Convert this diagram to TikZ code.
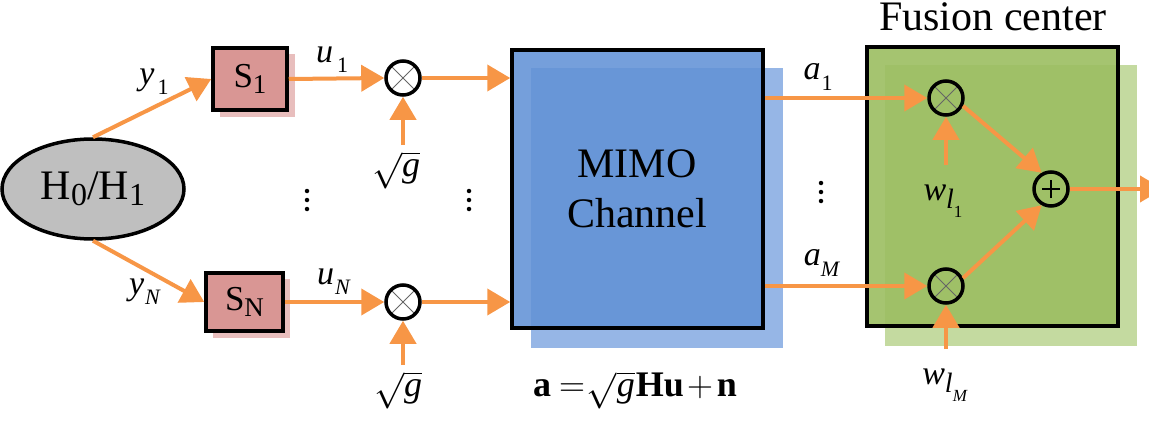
\RequirePackage{fix-cm}
\documentclass[tikz,border=0pt]{standalone}
\usepackage{amsmath}
\usepackage{fontspec}
\setmainfont{Liberation Serif}
\usetikzlibrary{arrows.meta,shapes.geometric}
\definecolor{arrowor}{RGB}{247,150,70}
\definecolor{sbox}{RGB}{217,150,148}
\definecolor{sshadow}{RGB}{232,190,189}
\definecolor{hgray}{RGB}{191,191,191}
\definecolor{mimoblue}{RGB}{98,146,214}
\definecolor{mimoshadow}{RGB}{150,182,230}
\definecolor{fcgreen}{RGB}{155,190,97}
\definecolor{fcshadow}{RGB}{196,218,160}
\newcommand{\sublab}[3]{\textit{#1}\kern#3\raisebox{-0.3em}{\fontsize{22}{22}\selectfont #2}}
\newcommand{\wlab}[1]{\textit{w}\raisebox{-0.25em}{\fontsize{28}{28}\selectfont\textit{l}\raisebox{-0.3em}{\fontsize{17}{17}\selectfont #1}}}
\newcommand{\sqg}[1]{$\sqrt{\mbox{\fontsize{#1}{#1}\selectfont\itshape g}}$}
\begin{document}
\begin{tikzpicture}[x=1pt,y=-1pt,
  flow/.style={draw=arrowor, line width=4pt, -{Triangle[length=23pt,width=26pt]}},
  blk/.style={draw=black, line width=3.5pt},
  sensor/.style={blk, fill=sbox, rectangle, inner sep=0pt, font=\fontsize{35}{35}\selectfont},
  mult/.style={blk, circle, minimum size=34pt, inner sep=0pt,
    path picture={\draw[gray!80!black, line width=1pt]
      (path picture bounding box.north west) -- (path picture bounding box.south east)
      (path picture bounding box.north east) -- (path picture bounding box.south west);}},
  adder/.style={blk, circle, minimum size=34pt, inner sep=0pt,
    path picture={\draw[black, line width=2pt]
      ([xshift=-9pt]path picture bounding box.center) -- ([xshift=9pt]path picture bounding box.center)
      ([yshift=-9pt]path picture bounding box.center) -- ([yshift=9pt]path picture bounding box.center);}},
  lab/.style={inner sep=0pt, font=\fontsize{34}{34}\selectfont},
  bigtext/.style={inner sep=0pt, font=\fontsize{42}{50}\selectfont, align=center},
  vdot/.style={circle, fill=black, inner sep=0pt, minimum size=4.5pt}
]
\clip (0,0) rectangle (1149,436);

% hypothesis ellipse
\node[blk, ellipse, fill=hgray, minimum width=182pt, minimum height=100pt, inner sep=0pt,
  font=\fontsize{42}{42}\selectfont] (H) at (93,189)
  {H\raisebox{-0.15em}{\fontsize{32}{32}\selectfont 0}/H\raisebox{-0.15em}{\fontsize{32}{32}\selectfont 1}};

% sensors with shadows
\fill[sshadow] (220,54) rectangle (295,117);
\node[sensor, minimum width=74pt, minimum height=62pt] (S1) at (250,79)
  {S\raisebox{-0.15em}{\fontsize{27}{27}\selectfont 1}};
\fill[sshadow] (213,279) rectangle (290,338);
\node[sensor, minimum width=77pt, minimum height=58pt] (SN) at (244.5,302)
  {S\raisebox{-0.15em}{\fontsize{27}{27}\selectfont N}};

% multipliers
\node[mult] (m1) at (403,78) {};
\node[mult] (mN) at (403,302) {};

% MIMO channel
\fill[mimoshadow] (531,68) rectangle (783,348);
\node[blk, fill=mimoblue, fill opacity=0.88, text opacity=1, minimum width=251pt, minimum height=278pt,
  inner sep=0pt] (ch) at (637.5,189) {};
\node[bigtext] (chtext) at (637,189) {MIMO\\Channel};

% fusion center
\fill[fcshadow] (885,65) rectangle (1137,346);
\node[blk, fill=fcgreen, fill opacity=0.9, minimum width=251pt, minimum height=279pt,
  inner sep=0pt] (fc) at (992.5,186.5) {};
\node[inner sep=0pt, font=\fontsize{42}{42}\selectfont, anchor=base] (fctitle) at (993,31) {Fusion center};

\node[mult] (f1) at (946,98) {};
\node[mult] (fM) at (946,286) {};
\node[adder] (plus) at (1051,189) {};

% coordinates for free ends
\coordinate (g1) at (403,145);
\coordinate (gN) at (403,365);
\coordinate (w1) at (946,165);
\coordinate (wM) at (946,349);
\coordinate (out) at (1163,189);

% connectors
\draw[flow] (H.north) -- (S1.west);
\draw[flow] (H.south) -- (SN.west);
\draw[flow] (S1.east) -- (m1.west);
\draw[flow] (SN.east |- mN) -- (mN.west);
\draw[flow] (m1.east) -- (m1 -| ch.west);
\draw[flow] (mN.east) -- (mN -| ch.west);
\draw[flow] (g1) -- (m1.south);
\draw[flow] (gN) -- (mN.south);
\draw[flow] (ch.east |- f1) -- (f1.west);
\draw[flow] (ch.east |- fM) -- (fM.west);
\draw[flow] (w1) -- (f1.south);
\draw[flow] (wM) -- (fM.south);
\draw[flow] (f1.-25) -- (plus.120);
\draw[flow] (fM.25) -- (plus.-120);
\draw[flow] (plus.east) -- (out);

% labels
\node[lab] (ly1) at (154,82) {\sublab{y}{1}{3pt}};
\node[lab] (lyN) at (145,292) {\sublab{y}{\textit{N}}{1pt}};
\node[lab] (lu1) at (332,60) {\sublab{u}{1}{4pt}};
\node[lab] (luN) at (334,282) {\sublab{u}{\textit{N}}{1pt}};
\node[lab] (la1) at (818,77) {\sublab{a}{1}{1pt}};
\node[lab] (laM) at (822,263) {\sublab{a}{\textit{M}}{0pt}};
\node[lab] (lw1) at (943,201) {\wlab{1}};
\node[lab] (lwM) at (945,385) {\wlab{\textit{M}}};
\node[lab, font=\fontsize{36}{36}\selectfont] (lg1) at (396,170) {\sqg{36}};
\node[lab, font=\fontsize{36}{36}\selectfont] (lgN) at (398,390) {\sqg{36}};
\node[lab, font=\fontsize{36}{36}\selectfont] (formula) at (635,390)
  {\textbf{a}\kern8pt$=$\kern2pt\sqg{36}\kern1pt\textbf{Hu}\kern3pt$+$\kern4pt\textbf{n}};

% ellipsis dots
\foreach \nm/\x/\y in {dA/307/200, dB/469/200, dC/821/192}{
  \node[vdot] (\nm1) at (\x,\y-9) {};
  \node[vdot] (\nm2) at (\x,\y) {};
  \node[vdot] (\nm3) at (\x,\y+9) {};
}
\end{tikzpicture}
\end{document}
